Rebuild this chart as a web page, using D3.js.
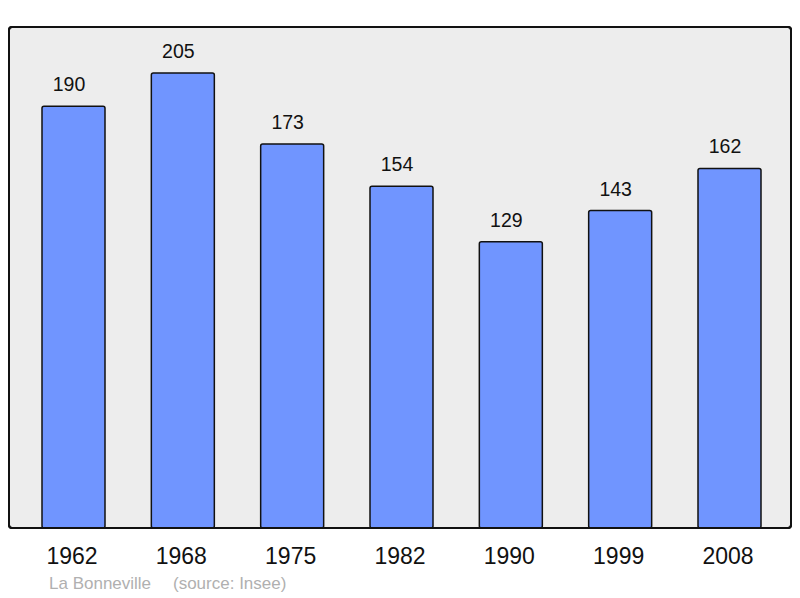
<!DOCTYPE html>
<html><head><meta charset="utf-8">
<script src="https://cdn.jsdelivr.net/npm/d3@7"></script>
<style>body{margin:0;background:#fff}svg{display:block}</style>
</head><body>
<script>
const years = ["1962","1968","1975","1982","1990","1999","2008"];
const population = [190,205,173,154,129,143,162];
const footerName = "La Bonneville";
const footerSource = "(source: Insee)";

const W=800,H=598;
const svg=d3.select("body").append("svg").attr("width",W).attr("height",H);
svg.append("rect").attr("x",9).attr("y",27).attr("width",782).attr("height",501)
  .attr("rx",3).attr("fill","#ededed").attr("stroke","#111").attr("stroke-width",2);

const x=d3.scalePoint().domain(years).range([73.5,729.5]);
const y=d3.scaleLinear().domain([0,205]).range([528,73]);
const bw=63;
const font="Liberation Sans, Arial, sans-serif";

const g=svg.append("g");
g.selectAll("rect.bar").data(years).join("rect").attr("class","bar")
  .attr("x",d=>x(d)-bw/2).attr("width",bw)
  .attr("y",(d,i)=>y(population[i])).attr("height",(d,i)=>y(0)-y(population[i]))
  .attr("rx",2).attr("fill","#7095ff").attr("stroke","#111").attr("stroke-width",1.5);

g.selectAll("text.val").data(years).join("text").attr("class","val")
  .attr("x",d=>x(d)-4.5).attr("y",(d,i)=>y(population[i])-15)
  .attr("text-anchor","middle").attr("font-family",font)
  .attr("font-size",19.5).attr("fill","#111").text((d,i)=>population[i]);

g.selectAll("text.yr").data(years).join("text").attr("class","yr")
  .attr("x",d=>x(d)-1.5).attr("y",564)
  .attr("text-anchor","middle").attr("font-family",font)
  .attr("font-size",23).attr("fill","#111").text(d=>d);

svg.append("text").attr("x",49).attr("y",589)
  .attr("font-family",font).attr("font-size",17)
  .attr("fill","#b0b0b0").text(footerName);
svg.append("text").attr("x",173).attr("y",589)
  .attr("font-family",font).attr("font-size",17)
  .attr("fill","#b0b0b0").text(footerSource);
svg.append("rect").attr("x",9).attr("y",27).attr("width",782).attr("height",501)
  .attr("rx",3).attr("fill","none").attr("stroke","#111").attr("stroke-width",2);
</script>
</body></html>
